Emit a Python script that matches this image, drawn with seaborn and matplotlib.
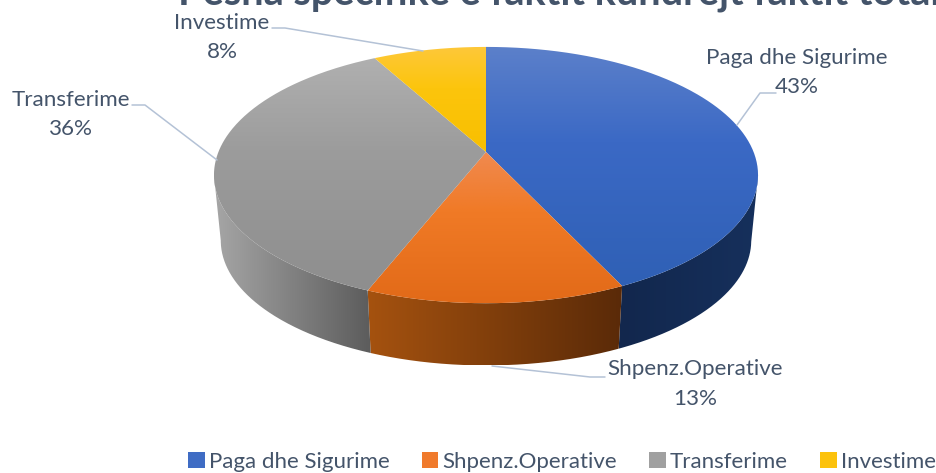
import numpy as np
import matplotlib
matplotlib.use("Agg")
import matplotlib.pyplot as plt
from matplotlib.colors import LinearSegmentedColormap
from matplotlib.patches import Patch, PathPatch
from matplotlib.path import Path
import seaborn as sns

categories = ["Paga dhe Sigurime", "Shpenz.Operative", "Transferime", "Investime"]
values = [43, 13, 36, 8]
title = "Pesha specifike e faktit kundrejt faktit total"

base_colors = ["#4472c4", "#ed7d31", "#a5a5a5", "#ffc000"]
top_grad = [("#5c80ca", "#3b69c5", "#2f60b5"), ("#f08a50", "#f07a26", "#e26a18"),
            ("#b0b0b0", "#9c9c9c", "#8e8e8e"), ("#fec83a", "#fcc50c", "#f8bf00")]
wall_grad = [("#12274d", "#16305c"), ("#a5520f", "#5a2a08"), ("#a6a6a6", "#5c5c5c"), ("#8a6a00", "#8a6a00")]
legend_colors = ["#3f6cc4", "#f07a2c", "#a0a0a0", "#fcc20c"]
text_color = "#44546a"
line_color = "#b4c2d6"

sns.set_theme(style="white")
plt.rcParams["font.family"] = ["Lato", "DejaVu Sans"]
W, H = 937, 473
fig = plt.figure(figsize=(W / 100, H / 100), dpi=100, facecolor="white")
ax = fig.add_axes([0, 0, 1, 1])

# The library's pie supplies each slice's angular span from the values.
wedges, _ = ax.pie(values, startangle=90, counterclock=False, colors=base_colors)
spans = [(min(w.theta1, w.theta2), max(w.theta1, w.theta2)) for w in wedges]
for w in wedges:
    w.remove()
ax.set_aspect("auto")
ax.set_xlim(0, W)
ax.set_ylim(H, 0)
ax.axis("off")

# Perspective projection of the unit disc onto the picture
CX, CY, A, B, K = 486.0, 152.0, 267.6, 124.0, 0.18
DEPTH, SHRINK = 66.0, 0.975
SIL = np.degrees(np.arcsin(K))  # angle below horizontal of the side silhouette


def project(theta_deg, scale=1.0, dy=0.0):
    t = np.radians(theta_deg)
    u, v = np.cos(t), np.sin(t)
    w = 1 + K * v
    return CX + scale * A * u / w, CY + dy - scale * B * v / w


def gradient(path, colors, horizontal, z):
    verts = path.vertices
    x0, x1 = verts[:, 0].min(), verts[:, 0].max()
    y0, y1 = verts[:, 1].min(), verts[:, 1].max()
    stops = list(zip(np.linspace(0, 1, len(colors)) if len(colors) == 2 else [0, 0.4, 1], colors))
    cmap = LinearSegmentedColormap.from_list("g", stops)
    ramp = np.linspace(0, 1, 256)
    img = ramp[None, :] if horizontal else ramp[:, None]
    im = ax.imshow(img, cmap=cmap, extent=(x0, x1, y1, y0), aspect="auto",
                   zorder=z, interpolation="bilinear")
    patch = PathPatch(path, transform=ax.transData, fc="none", ec="none")
    ax.add_patch(patch)
    im.set_clip_path(patch)


# Side wall: only the part of each slice between the two side silhouettes
front_lo, front_hi = -180 + SIL, -SIL
for i, (t1, t2) in enumerate(spans):
    a, b = max(t1, front_lo), min(t2, front_hi)
    if a >= b:
        continue
    th = np.linspace(a, b, 240)
    xt, yt = project(th)
    xb, yb = project(th[::-1], SHRINK, DEPTH)
    wall = Path(np.column_stack([np.r_[xt, xb, xt[0]], np.r_[yt, yb, yt[0]]]))
    gradient(wall, wall_grad[i], True, 2)

for i, (t1, t2) in enumerate(spans):
    th = np.linspace(t1, t2, 240)
    xt, yt = project(th)
    top = Path(np.column_stack([np.r_[CX, xt, CX], np.r_[CY, yt, CY]]))
    gradient(top, top_grad[i], False, 3)

ax.set_xlim(0, W)
ax.set_ylim(H, 0)

# Data labels
label_pos = [(797, 58, 87), (695, 369, 399), (71, 100, 129), (222, 23, 52)]
for name, val, (x, y1, y2) in zip(categories, values, label_pos):
    ax.text(x, y1, name, ha="center", va="center", fontsize=16.1, color=text_color, zorder=6)
    ax.text(x, y2, f"{val}%", ha="center", va="center", fontsize=16.1, color=text_color, zorder=6)

leaders = [
    ([776, 760, 737], [93, 93, 125]),
    ([605, 590, 492], [377, 377, 366]),
    ([132, 145, 217], [105, 105, 160]),
    ([272, 285, 423], [28, 28, 51]),
]
for lx, ly in leaders:
    ax.plot(lx, ly, color=line_color, lw=1.1, zorder=5)

ax.text(178, 5, title, ha="left", va="baseline", fontsize=28.5, fontweight="bold",
        color=text_color, zorder=6, clip_on=False)

handles = [Patch(fc=c, ec="none") for c in legend_colors]
ax.legend(handles, categories, ncol=4, loc="center", bbox_to_anchor=(562, 462),
          bbox_transform=ax.transData, frameon=False, fontsize=16, labelcolor=text_color,
          handlelength=0.75, handleheight=0.75, handletextpad=0.18, columnspacing=1.45,
          borderpad=0, borderaxespad=0)

fig.savefig("out.png", dpi=100, facecolor="white")
